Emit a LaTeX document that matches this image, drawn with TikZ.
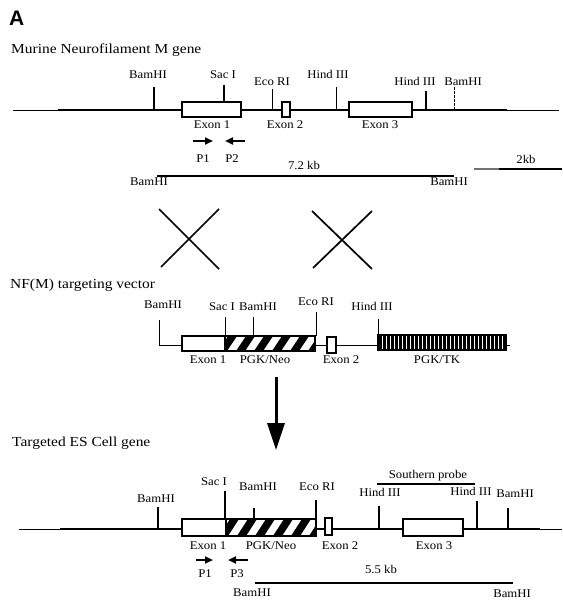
\documentclass[tikz,border=0pt]{standalone}
\usepackage{fontspec}
\setmainfont{Liberation Serif}
\newfontfamily\lblfam{Liberation Serif}[FakeStretch=1.08]
\newfontfamily\ttlfam{Liberation Serif}[FakeStretch=1.12]
\newfontfamily\letfam{Liberation Sans}
\usetikzlibrary{arrows.meta}
\begin{document}
\begin{tikzpicture}[x=1pt,y=-1pt,
  lbl/.style={font=\lblfam\fontsize{11.8}{13}\selectfont, inner sep=0pt, text height=7.8pt, text depth=0pt, anchor=center},
  ttl/.style={font=\ttlfam\fontsize{13.8}{15}\selectfont, inner sep=0pt, text height=9pt, text depth=0pt, anchor=west},
  dna/.style={line width=1.8pt},
  thinl/.style={line width=0.9pt},
  site/.style={line width=1.2pt},
  thinsite/.style={line width=0.8pt},
  exonbox/.style={draw, line width=1.2pt, fill=white},
  primer/.style={line width=2pt, -{Triangle[length=8pt,width=7pt]}},
  xline/.style={line width=1.7pt},
]
\useasboundingbox (0,0) rectangle (562,601);

% ---------- titles ----------
\node[font=\letfam\bfseries\fontsize{21}{22}\selectfont, inner sep=0pt, text height=15pt, text depth=0pt, anchor=west] (lettA) at (9,18) {A};
\node[ttl] (t1) at (11,49) {Murine Neurofilament M gene};
\node[ttl] (t2) at (10,284) {NF(M) targeting vector};
\node[ttl] (t3) at (12,442) {Targeted ES Cell gene};

% ---------- wild-type gene ----------
\draw[thinl] (13,110) -- (58,110);
\draw[dna] (58,110) -- (507,110);
\draw[thinl] (507,110) -- (559,110);
\draw[site] (154,87) -- (154,110);
\draw[site] (224,85) -- (224,102);
\draw[thinsite] (272,89) -- (272,110);
\draw[thinsite] (336,87) -- (336,110);
\draw[site] (426,91) -- (426,110);
\draw[thinsite,dash pattern=on 3pt off 1pt] (454,87) -- (454,110);
\draw[exonbox] (182,102) rectangle (241,117);
\draw[exonbox] (282,102) rectangle (290,117);
\draw[exonbox] (349,102) rectangle (412,117);
\node[lbl] (w1) at (148,75) {BamHI};
\node[lbl] (w2) at (223,75) {Sac I};
\node[lbl] (w3) at (272,82) {Eco RI};
\node[lbl] (w4) at (328,75) {Hind III};
\node[lbl] (w5) at (415,82) {Hind III};
\node[lbl] (w6) at (463,82) {BamHI};
\node[lbl] (we1) at (212,125) {Exon 1};
\node[lbl] (we2) at (285,125) {Exon 2};
\node[lbl] (we3) at (380,125) {Exon 3};
\coordinate (p1a) at (193,141); \coordinate (p1b) at (213,141);
\coordinate (p2a) at (245,141); \coordinate (p2b) at (225,141);
\draw[primer] (p1a) -- (p1b);
\draw[primer] (p2a) -- (p2b);
\node[lbl] (wp1) at (203,159) {P1};
\node[lbl] (wp2) at (232,159) {P2};
\coordinate (k7a) at (157,176); \coordinate (k7b) at (454,176);
\draw[xline] (k7a) -- (k7b);
\node[lbl] (k7) at (304,166) {7.2 kb};
\node[lbl] (wb1) at (149,182) {BamHI};
\node[lbl] (wb2) at (449,182) {BamHI};
\draw[line width=1.2pt, black!55] (474,169) -- (499,169);
\draw[line width=1.2pt] (499,169) -- (562,169);
\node[lbl] (scale) at (526,160) {2kb};

% ---------- crossover marks ----------
\draw[xline] (159,209) -- (219,269);
\draw[xline] (219,209) -- (161,267);
\draw[xline] (312,211) -- (372,269);
\draw[xline] (372,211) -- (313,268);

% ---------- targeting vector ----------
\draw[thinl] (159,320) -- (159,345) -- (182,345);
\draw[thinl] (315,345) -- (378,345);
\draw[thinl] (506,345) -- (510,345);
\draw[thinsite] (225,317) -- (225,336);
\draw[thinsite] (253,317) -- (253,336);
\draw[thinsite] (316,312) -- (316,336);
\draw[thinsite] (378,319) -- (378,335);
\draw[exonbox] (182,336) rectangle (225,351);
\fill[white] (225,336) rectangle (315,351);
\begin{scope}
  \clip (225,336) rectangle (315,351);
  \foreach \s in {218,236,...,308}
    \fill (\s,351) -- (\s+9,351) -- (\s+19,336) -- (\s+10,336) -- cycle;
\end{scope}
\draw[line width=1.2pt] (225,336) rectangle (315,351);
\draw[exonbox] (327,337) rectangle (336,353);
\fill[white] (378,335) rectangle (506,350);
\foreach \s in {379,383,...,503}
  \fill (\s,335) rectangle (\s+2.6,350);
\draw[line width=1.2pt] (378,335) rectangle (506,350);
\node[lbl] (v1) at (163,305) {BamHI};
\node[lbl] (v2) at (222,307) {Sac I};
\node[lbl] (v3) at (258,307) {BamHI};
\node[lbl] (v4) at (316,302) {Eco RI};
\node[lbl] (v5) at (372,307) {Hind III};
\node[lbl] (ve1) at (208,360) {Exon 1};
\node[lbl] (ve2) at (265,360) {PGK/Neo};
\node[lbl] (ve3) at (341,360) {Exon 2};
\node[lbl] (ve4) at (437,360) {PGK/TK};

% ---------- big arrow ----------
\coordinate (ar1) at (276,377); \coordinate (ar2) at (276,450);
\draw[line width=3pt, -{Triangle[length=27pt,width=17pt]}] (ar1) -- (ar2);

% ---------- targeted gene ----------
\draw[thinl] (19,529) -- (60,529);
\draw[dna] (60,529) -- (540,529);
\draw[thinl] (540,529) -- (562,529);
\draw[site] (158,507) -- (158,529);
\draw[site] (225,491) -- (225,519);
\draw[site] (254,508) -- (254,519);
\draw[site] (316,500) -- (316,519);
\draw[site] (379,506) -- (379,529);
\draw[site] (477,501) -- (477,529);
\draw[site] (508,508) -- (508,529);
\draw[exonbox] (182,519) rectangle (226,536);
\fill[white] (226,519) rectangle (316,536);
\begin{scope}
  \clip (226,519) rectangle (316,536);
  \foreach \s in {219,237,...,309}
    \fill (\s,536) -- (\s+9,536) -- (\s+20,519) -- (\s+11,519) -- cycle;
\end{scope}
\draw[line width=1.2pt] (226,519) rectangle (316,536);
\draw[exonbox] (325,518) rectangle (332,535);
\draw[exonbox] (403,519) rectangle (463,536);
\node[lbl] (g1) at (156,499) {BamHI};
\node[lbl] (g2) at (214,482) {Sac I};
\node[lbl] (g3) at (258,487) {BamHI};
\node[lbl] (g4) at (317,487) {Eco RI};
\node[lbl] (g5) at (380,493) {Hind III};
\node[lbl] (g6) at (471,492) {Hind III};
\node[lbl] (g7) at (515,494) {BamHI};
\coordinate (sp1) at (377,484); \coordinate (sp2) at (475,484);
\draw[site] (sp1) -- (sp2);
\node[lbl, text depth=2.5pt] (sp) at (428,476) {Southern probe};
\node[lbl] (ge1) at (208,546) {Exon 1};
\node[lbl] (ge2) at (271,546) {PGK/Neo};
\node[lbl] (ge3) at (340,546) {Exon 2};
\node[lbl] (ge4) at (434,546) {Exon 3};
\coordinate (q1a) at (196,560); \coordinate (q1b) at (213,560);
\coordinate (q3a) at (248,560); \coordinate (q3b) at (228,560);
\draw[primer] (q1a) -- (q1b);
\draw[primer] (q3a) -- (q3b);
\node[lbl] (gp1) at (205,574) {P1};
\node[lbl] (gp3) at (237,574) {P3};
\coordinate (k5a) at (255,583); \coordinate (k5b) at (513,583);
\draw[site] (k5a) -- (k5b);
\node[lbl] (k5) at (381,570) {5.5 kb};
\node[lbl] (gb1) at (252,593) {BamHI};
\node[lbl] (gb2) at (512,594) {BamHI};
\end{tikzpicture}
\end{document}
